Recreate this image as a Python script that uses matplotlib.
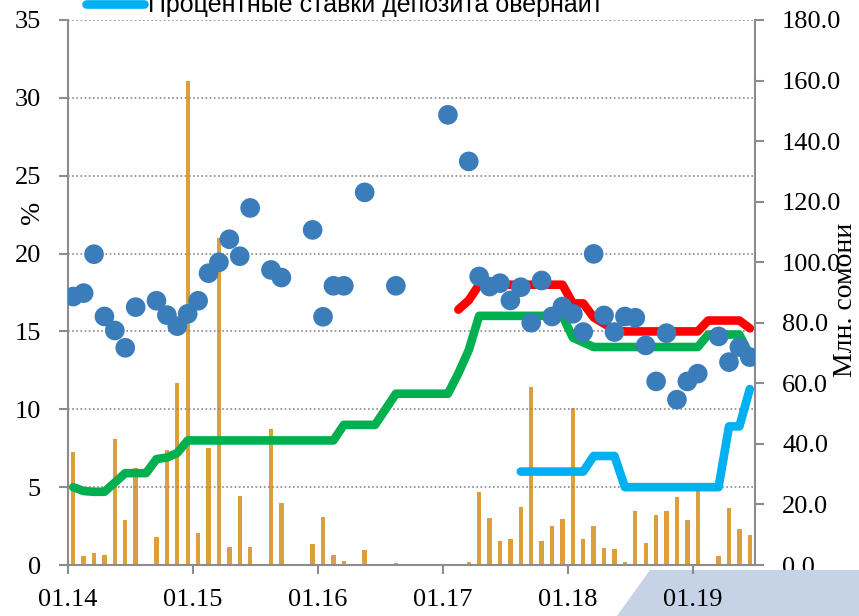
import numpy as np
import matplotlib
matplotlib.use("Agg")
import matplotlib.pyplot as plt
from matplotlib.lines import Line2D
from matplotlib.patches import Polygon

nan = np.nan

# monthly data, 01.2014 - 06.2019
volume = [37.4, 3.0, 3.9, 3.3, 41.5, 14.9, 31.9, 0, 9.3, 38.0, 60.0, 160.0,
          10.7, 38.8, 108.0, 5.8, 22.8, 5.8, 0, 44.8, 20.4, 0, 0, 6.8,
          15.9, 3.3, 1.3, 0, 5.0, 0, 0, 0.5, 0, 0, 0, 0,
          0.3, 0, 0.9, 24.2, 15.4, 8.0, 8.5, 19.2, 58.7, 8.0, 12.9, 15.1,
          52.0, 8.5, 12.9, 5.5, 5.2, 0.9, 17.8, 7.2, 16.5, 17.9, 22.3, 14.9,
          25.0, 0, 3.1, 18.7, 11.8, 9.9]

rate_pts = [17.24, 17.46, 19.96, 15.96, 15.06, 13.95, 16.56, nan, 16.97, 16.05, 15.34, 16.13,
            16.97, 18.74, 19.44, 20.92, 19.83, 22.93, nan, 18.95, 18.46, nan, nan, 21.52,
            15.94, 17.93, 17.93, nan, 23.93, nan, nan, 17.93, nan, nan, nan, nan,
            28.91, nan, 25.92, 18.53, 17.88, 18.10, 16.99, 17.84, 15.56, 18.27, 15.96, 16.60,
            16.13, 14.96, 19.98, 16.03, 14.96, 15.96, 15.88, 14.10, 11.79, 14.89, 10.62, 11.79,
            12.29, nan, 14.68, 13.03, 13.99, 13.35]

green = [5.0, 4.75, 4.7, 4.7, 5.3, 5.9, 5.9, 5.9, 6.8, 6.9, 7.2, 8.0,
         8.0, 8.0, 8.0, 8.0, 8.0, 8.0, 8.0, 8.0, 8.0, 8.0, 8.0, 8.0,
         8.0, 8.0, 9.0, 9.0, 9.0, 9.0, 10.0, 11.0, 11.0, 11.0, 11.0, 11.0,
         11.0, 12.3, 13.8, 16.0, 16.0, 16.0, 16.0, 16.0, 16.0, 16.0, 16.0, 16.0,
         14.6, 14.3, 14.0, 14.0, 14.0, 14.0, 14.0, 14.0, 14.0, 14.0, 14.0, 14.0,
         14.0, 14.8, 14.8, 14.8, 14.8, 13.5]

red = [nan] * 37 + [16.4, 17.0, 18.0, 18.0, 18.0, 18.0, 18.0, 18.0, 18.0, 18.0, 18.0,
                    16.8, 16.8, 15.9, 15.5, 15.1, 15.0, 15.0, 15.0, 15.0, 15.0, 15.0, 15.0,
                    15.0, 15.7, 15.7, 15.7, 15.7, 15.2]

overnight = [nan] * 43 + [6.0, 6.0, 6.0, 6.0, 6.0, 6.0, 6.0, 7.0, 7.0, 7.0, 5.0, 5.0,
                          5.0, 5.0, 5.0, 5.0, 5.0, 5.0, 5.0, 5.0, 8.9, 8.9, 11.3]

xlabels = ["01.14", "01.15", "01.16", "01.17", "01.18", "01.19"]
legend_label = "Процентные ставки депозита овернайт"

x = np.arange(len(volume)) + 0.5

serif = "Liberation Serif"
plt.rcParams["font.family"] = serif
gray = "#8c8c8c"

fig = plt.figure(figsize=(8.59, 6.16), dpi=100)
ax = fig.add_axes([68 / 859, 51 / 616, 687 / 859, 545 / 616])
ax2 = ax.twinx()
ax.set_zorder(ax2.get_zorder() + 1)
ax.patch.set_visible(False)

# decoration at bottom right
fig.patches.append(Polygon([[650 / 859, 46 / 616], [1, 46 / 616], [1, 0], [617 / 859, 0]],
                           closed=True, transform=fig.transFigure, facecolor="#c6d3e6",
                           edgecolor="none", zorder=0))

ax2.bar(x, volume, width=0.42, color="#dba03c", zorder=2)

ax.plot(x, green, color="#00b050", lw=6.2, solid_capstyle="round", solid_joinstyle="round", zorder=3)
ax.plot(x, red, color="#ff0000", lw=6.2, solid_capstyle="round", solid_joinstyle="round", zorder=3)
ax.plot(x, overnight, color="#00b0f0", lw=6.2, solid_capstyle="round", solid_joinstyle="round", zorder=4)
ax.scatter(x, rate_pts, s=200, color="#3a7dba", edgecolors="none", zorder=5)

ax.set_xlim(0, len(volume))
ax.set_ylim(0, 35)
ax2.set_ylim(0, 180)
ax.set_yticks(np.arange(0, 36, 5))
ax2.set_yticks(np.arange(0, 181, 20))
ax2.set_yticklabels(["%.1f" % v for v in np.arange(0, 181, 20)])
ax.set_xticks(np.arange(0, 61, 12))
ax.set_xticklabels(xlabels)

for a in (ax, ax2):
    for s in a.spines.values():
        s.set_visible(False)
ax.spines["left"].set_visible(True)
ax.spines["bottom"].set_visible(True)
ax2.spines["right"].set_visible(True)
for s in (ax.spines["left"], ax.spines["bottom"], ax2.spines["right"]):
    s.set_color(gray)
    s.set_linewidth(1.5)

ax.yaxis.grid(True, linestyle=(0, (1, 1.5)), color="#8a8a8a", lw=1.2)
ax.set_axisbelow(True)

ax.tick_params(axis="y", length=6.5, width=1.5, color=gray, labelsize=19, pad=13)
ax.tick_params(axis="x", length=6.5, width=1.5, color=gray, labelsize=19, pad=11)
ax2.tick_params(axis="y", length=6.5, width=1.5, color=gray, labelsize=19, pad=13)

fig.text(33 / 859, 1 - 212 / 616, "%", rotation=90, ha="center", va="center", fontsize=20)
fig.text(845 / 859, 1 - 300 / 616, "Млн. сомони", rotation=90, ha="center", va="center", fontsize=20)

h = Line2D([], [], color="#00b0f0", lw=6.2, solid_capstyle="round")
fig.legend(handles=[h], labels=[legend_label], loc="center left",
           bbox_to_anchor=(86 / 859, 1 - 5 / 616), frameon=False, borderpad=0,
           borderaxespad=0, handlelength=2.3, handletextpad=0.2,
           prop={"family": "Liberation Sans", "size": 18})

fig.savefig("out.png", dpi=100)
